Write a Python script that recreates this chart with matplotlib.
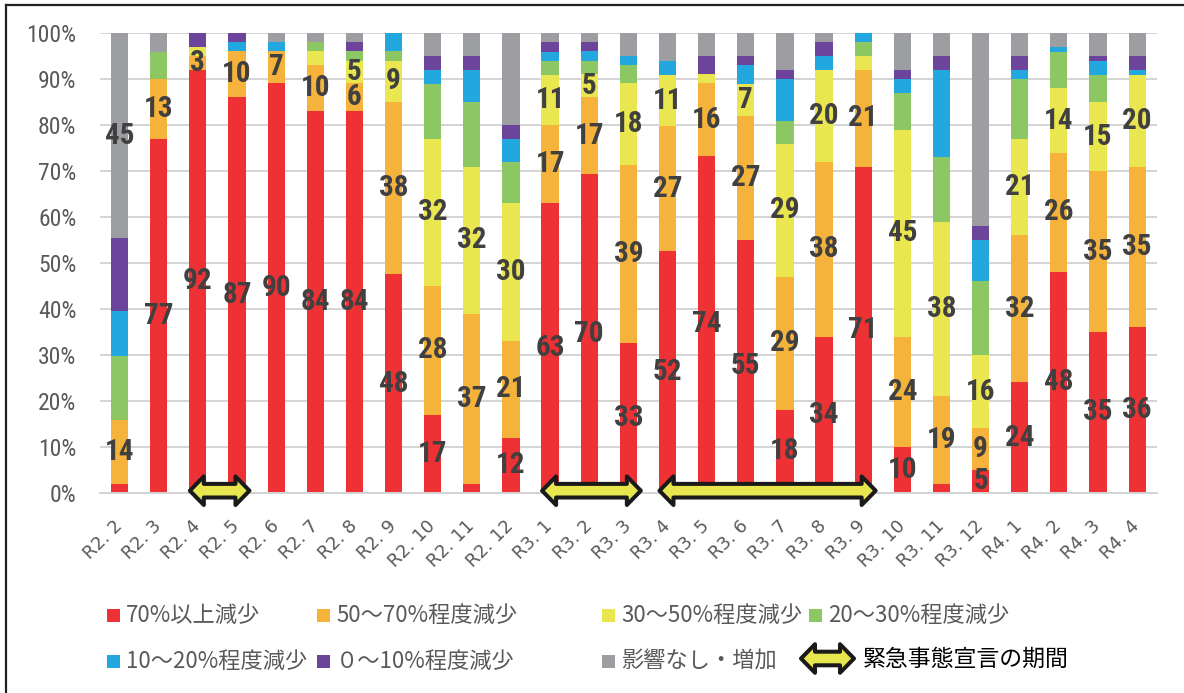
import matplotlib
matplotlib.use("Agg")
import matplotlib.pyplot as plt
import matplotlib.font_manager as fm
from matplotlib.patches import Polygon, Rectangle
from matplotlib.lines import Line2D
from matplotlib.transforms import IdentityTransform
import numpy as np

plt.rcParams['font.family'] = ['Noto Sans CJK JP', 'DejaVu Sans']

months = ["R2. 2", "R2. 3", "R2. 4", "R2. 5", "R2. 6", "R2. 7", "R2. 8", "R2. 9",
          "R2. 10", "R2. 11", "R2. 12", "R3. 1", "R3. 2", "R3. 3", "R3. 4", "R3. 5",
          "R3. 6", "R3. 7", "R3. 8", "R3. 9", "R3. 10", "R3. 11", "R3. 12",
          "R4. 1", "R4. 2", "R4. 3", "R4. 4"]

over70 = [2, 77, 92, 87, 90, 84, 84, 48, 17, 2, 12, 63, 70, 33, 52, 74, 55, 18, 34, 71, 10, 2, 5, 24, 48, 35, 36]
r50_70 = [14, 13, 3, 10, 7, 10, 6, 38, 28, 37, 21, 17, 17, 39, 27, 16, 27, 29, 38, 21, 24, 19, 9, 32, 26, 35, 35]
r30_50 = [0, 0, 2, 0, 0, 3, 5, 9, 32, 32, 30, 11, 5, 18, 11, 2, 7, 29, 20, 3, 45, 38, 16, 21, 14, 15, 20]
r20_30 = [14, 6, 0, 0, 0, 2, 2, 2, 12, 14, 9, 3, 3, 4, 0, 0, 0, 5, 0, 3, 8, 14, 16, 13, 8, 6, 0]
r10_20 = [10, 0, 0, 2, 2, 0, 0, 4, 3, 7, 5, 2, 2, 2, 3, 0, 4, 9, 3, 2, 3, 19, 9, 2, 1, 3, 1]
r0_10 = [16, 0, 3, 2, 0, 0, 2, 0, 3, 3, 3, 2, 2, 0, 0, 4, 2, 2, 3, 0, 2, 3, 3, 3, 0, 1, 3]
no_effect = [45, 4, 0, 0, 2, 2, 2, 0, 5, 5, 20, 2, 2, 5, 6, 5, 5, 8, 2, 0, 8, 5, 42, 5, 3, 5, 5]

series_names = ["70%以上減少", "50～70%程度減少", "30～50%程度減少", "20～30%程度減少",
                "10～20%程度減少", "０～10%程度減少", "影響なし・増加"]
series_vals = [over70, r50_70, r30_50, r20_30, r10_20, r0_10, no_effect]
colors = ["#EE3134", "#F5B33B", "#E9E650", "#8CC764", "#22A8DF", "#6C449B", "#9D9EA1"]

# state of emergency periods (first month, last month)
emergency = [("R2. 4", "R2. 5"), ("R3. 1", "R3. 3"), ("R3. 4", "R3. 9")]

# which series get value labels, and from what size
label_min = {0: 5, 1: 1, 2: 5}
gray_labeled = ["R2. 2"]


def narrow_font(bold):
    # look for an installed narrow / condensed face
    prefs = ["liberation sans narrow", "roboto condensed", "noto sans", "dejavu sans", "open sans"]
    found = []
    for f in fm.fontManager.ttflist:
        p = f.fname.lower().replace("-", "").replace("_", "")
        n = f.name.lower()
        if not ("narrow" in n or "narrow" in p or "condensed" in n or "condensed" in p
                or str(f.stretch) in ("condensed", "semi-condensed")):
            continue
        if "extra" in p or "ultra" in p or "italic" in p or "oblique" in p:
            continue
        if "light" in p or "thin" in p or "medium" in p or "black" in p:
            continue
        isbold = ("bold" in p) or f.weight in ("bold", 700)
        if isbold != bold:
            continue
        rank = next((k for k, pr in enumerate(prefs) if n.startswith(pr)), len(prefs))
        found.append((rank, f.fname))
    found.sort()
    return found[0][1] if found else None


bold_path = narrow_font(True)
reg_path = narrow_font(False)
if bold_path:
    lab_fp = fm.FontProperties(fname=bold_path, size=21)
else:
    lab_fp = fm.FontProperties(family="Liberation Sans", weight="bold", size=17)
if reg_path:
    tick_fp = fm.FontProperties(fname=reg_path, size=17)
else:
    tick_fp = fm.FontProperties(family="Liberation Sans", size=15)
month_fp = fm.FontProperties(family="DejaVu Sans", size=13)

W, H = 1184, 693
fig = plt.figure(figsize=(W / 100, H / 100), dpi=100)
ax = fig.add_axes([100 / W, 1 - 492.7 / H, 1056.7 / W, 459.4 / H])

x = np.arange(len(months))
data = np.array(series_vals, dtype=float)
pct = data / data.sum(axis=0) * 100
bottom = np.zeros(len(months))
for i, (name, c) in enumerate(zip(series_names, colors)):
    ax.bar(x, pct[i], 0.44, bottom=bottom, color=c, zorder=2)
    for j in range(len(months)):
        v = series_vals[i][j]
        show = (i in label_min and v >= label_min[i]) or (i == 6 and months[j] in gray_labeled)
        if show:
            ax.text(x[j], bottom[j] + pct[i][j] / 2, str(v), ha="center", va="center",
                    fontproperties=lab_fp, color="#404040", zorder=4)
    bottom += pct[i]

ax.set_xlim(-0.5, len(months) - 0.5)
ax.set_ylim(0, 100)
ax.set_yticks(np.arange(0, 101, 10))
ax.set_yticklabels([f"{v}%" for v in range(0, 101, 10)], fontproperties=tick_fp,
                   color="#595959")
ax.set_xticks(x)
ax.set_xticklabels(months, fontproperties=month_fp, color="#595959",
                   rotation=45, ha="right", va="center", rotation_mode="anchor")
ax.tick_params(axis="y", length=0, pad=17)
ax.tick_params(axis="x", length=0, pad=22)
ax.grid(axis="y", color="#D4D4D4", lw=1.4, zorder=0)
for s in ["left", "right", "top"]:
    ax.spines[s].set_visible(False)
ax.spines["bottom"].set_color("#D4D4D4")
ax.spines["bottom"].set_linewidth(1.4)


def double_arrow(x0, x1, yc, zorder=5):
    # fat two-headed arrow in display pixels
    hl, hh, sh = 14, 14.3, 6.8
    verts = [(x0, yc), (x0 + hl, yc + hh), (x0 + hl, yc + sh), (x1 - hl, yc + sh),
             (x1 - hl, yc + hh), (x1, yc), (x1 - hl, yc - hh), (x1 - hl, yc - sh),
             (x0 + hl, yc - sh), (x0 + hl, yc - hh)]
    p = Polygon(verts, closed=True, facecolor="#E8E64E", edgecolor="#1A1A1A", lw=2.9,
                joinstyle="round", transform=IdentityTransform(), zorder=zorder)
    fig.add_artist(p)


for a, b in emergency:
    xa = ax.transData.transform((months.index(a), 0))
    xb = ax.transData.transform((months.index(b), 0))
    double_arrow(xa[0] - 8, xb[0] + 12.5, xa[1] + 2)

# legend laid out in two rows
leg_rows = [[(0, 107), (1, 317), (2, 602), (3, 809)],
            [(4, 107), (5, 317), (6, 602)]]
row_y = [615, 661.5]
for row, yy in zip(leg_rows, row_y):
    for i, xx in row:
        fig.add_artist(Rectangle((xx / W, 1 - (yy + 6.5) / H), 13 / W, 13 / H,
                                 facecolor=colors[i], edgecolor="none",
                                 transform=fig.transFigure))
        fig.text((xx + 19) / W, 1 - yy / H, series_names[i], ha="left", va="center",
                 fontsize=16, color="#595959")
double_arrow(801, 854, H - 658.5)
fig.text(863 / W, 1 - 659 / H, "緊急事態宣言の期間", ha="left", va="center",
         fontsize=16.5, color="black")

# frame on top and left edge
fig.add_artist(Line2D([5.7 / W, 1], [1 - 5 / H, 1 - 5 / H], color="#222222", lw=1.6,
                      transform=fig.transFigure))
fig.add_artist(Line2D([5.7 / W, 5.7 / W], [0, 1 - 5 / H], color="#222222", lw=1.6,
                      transform=fig.transFigure))

fig.savefig("out.png", dpi=100)
